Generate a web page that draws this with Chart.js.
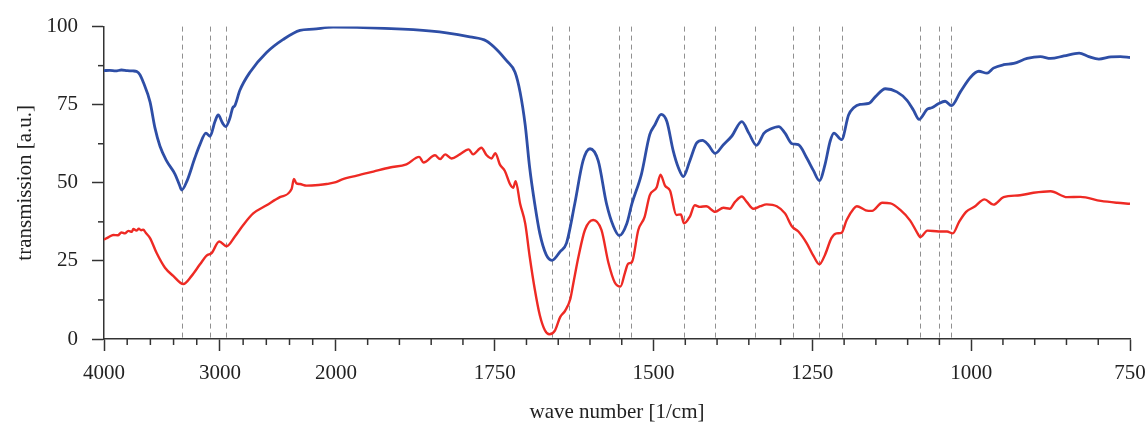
<!DOCTYPE html>
<html>
<head>
<meta charset="utf-8">
<script src="https://cdn.jsdelivr.net/npm/chart.js@4.4.1/dist/chart.umd.min.js"></script>
<style>
  html, body { margin: 0; padding: 0; background: #fff; overflow: hidden; }
  #wrap { width: 1146px; height: 426px; position: relative; }
</style>
</head>
<body>
<div id="wrap"><canvas id="irChart"></canvas></div>
<script>
// tick positions and labels (wave number, 1/cm)
const majorTicks = [4000, 3000, 2000, 1750, 1500, 1250, 1000, 750];
const minorTicksX = [3800, 3600, 3400, 3200, 2800, 2600, 2400, 2200,
    1950, 1900, 1850, 1800, 1700, 1650, 1600, 1550, 1450, 1400, 1350, 1300,
    1200, 1150, 1100, 1050, 950, 900, 850, 800];
const minorTicksY = [12.5, 37.5, 62.5, 87.5];

// marked bands
const bandLines = [3330, 3085, 2945, 1660, 1633, 1555, 1536, 1452, 1404, 1340, 1280, 1239, 1204, 1080, 1050, 1031];

// upper trace (blue)
const blueWn = [4000, 3950, 3900, 3850, 3800, 3750, 3718, 3690, 3661, 3603, 3560, 3517, 3460, 3388, 3351, 3330, 3283,
    3216, 3173, 3121, 3086, 3043, 3015, 2977, 2950, 2914, 2890, 2871, 2828, 2741, 2598, 2454, 2310, 2196, 2023,
    1957, 1878, 1826, 1789, 1763, 1747, 1731, 1718, 1710, 1702, 1695, 1687, 1679, 1669, 1660, 1647, 1637, 1624,
    1611, 1600, 1587, 1574, 1563, 1554, 1542, 1534, 1519, 1506, 1498, 1488, 1479, 1469, 1461, 1453, 1443, 1432,
    1423, 1414, 1403, 1390, 1377, 1361, 1350, 1338, 1326, 1316, 1303, 1293, 1282, 1272, 1259, 1248, 1239, 1230,
    1222, 1216, 1204, 1193, 1185, 1175, 1161, 1151, 1135, 1117, 1101, 1091, 1082, 1069, 1062, 1051, 1041, 1031,
    1017, 1001, 988, 975, 965, 949, 933, 912, 891, 875, 854, 830, 815, 799, 780, 765, 750];
const blueT = [85.9, 86.0, 85.8, 86.1, 85.9, 85.8, 85.6, 84.6, 82.2, 75.9, 67.5, 61.7, 57.0, 52.8, 49.5, 47.7, 50.7,
    58.0, 62.2, 65.9, 64.9, 69.6, 71.7, 69.1, 68.0, 70.7, 74.0, 74.7, 79.6, 85.4, 91.7, 95.9, 98.8, 99.2, 99.8,
    99.7, 99.0, 98.0, 96.7, 95.4, 92.7, 89.0, 85.4, 79.0, 68.5, 54.9, 43.3, 33.8, 27.0, 25.2, 28.0, 30.7, 43.3,
    57.0, 60.9, 57.0, 43.3, 36.0, 33.1, 37.0, 43.3, 52.8, 65.4, 68.5, 71.9, 69.6, 60.2, 54.9, 52.0, 57.0, 62.8,
    63.6, 62.2, 59.4, 62.2, 64.9, 69.6, 65.9, 62.0, 65.9, 67.2, 68.0, 65.9, 62.5, 62.2, 58.0, 53.8, 50.7, 55.9,
    63.3, 65.9, 63.8, 71.7, 74.0, 75.1, 75.4, 77.5, 80.1, 79.1, 76.4, 73.3, 70.3, 73.6, 74.0, 75.4, 76.1, 74.7,
    79.1, 83.8, 85.7, 85.1, 86.7, 87.8, 88.2, 89.8, 90.4, 89.8, 90.6, 91.5, 90.4, 89.6, 90.3, 90.4, 90.1];

// lower trace (red)
const redWn = [4000, 3960, 3920, 3880, 3850, 3820, 3790, 3760, 3747, 3720, 3700, 3680, 3661, 3640, 3603, 3546,
    3474, 3403, 3316, 3244, 3172, 3115, 3072, 3006, 2943, 2871, 2799, 2713, 2598, 2483, 2382, 2362, 2340, 2310,
    2253, 2150, 2080, 2000, 1991, 1967, 1941, 1915, 1889, 1869, 1862, 1844, 1836, 1828, 1818, 1805, 1791, 1784,
    1771, 1763, 1755, 1749, 1742, 1734, 1726, 1721, 1717, 1710, 1702, 1695, 1687, 1679, 1671, 1664, 1655, 1647,
    1639, 1631, 1626, 1618, 1608, 1595, 1582, 1571, 1561, 1552, 1545, 1540, 1534, 1524, 1514, 1506, 1495, 1489,
    1482, 1474, 1464, 1457, 1452, 1443, 1435, 1427, 1417, 1403, 1390, 1380, 1372, 1361, 1353, 1343, 1332, 1322,
    1306, 1293, 1282, 1272, 1259, 1248, 1239, 1230, 1220, 1212, 1204, 1196, 1185, 1180, 1166, 1156, 1140, 1127,
    1112, 1096, 1086, 1080, 1069, 1051, 1038, 1029, 1019, 1008, 995, 979, 965, 949, 923, 902, 875, 849, 828, 796,
    770, 750];
const redT = [31.8, 32.6, 33.3, 33.2, 34.1, 33.8, 34.6, 34.3, 35.2, 34.7, 35.3, 34.8, 35.0, 34.0, 32.3, 27.5,
    22.8, 20.2, 17.6, 20.2, 23.9, 26.7, 27.5, 31.2, 29.7, 32.8, 36.5, 40.2, 42.8, 45.4, 48.0, 51.2, 49.8, 49.6,
    49.1, 49.3, 49.6, 50.2, 51.0, 52.3, 53.6, 54.9, 55.9, 58.3, 56.5, 58.8, 57.6, 59.1, 57.8, 59.1, 60.7, 59.1,
    61.2, 58.9, 57.8, 59.5, 55.9, 53.8, 49.6, 48.4, 50.5, 43.3, 37.0, 26.5, 16.0, 7.6, 2.8, 1.5, 2.8, 7.0,
    9.1, 12.8, 18.1, 26.5, 34.9, 38.1, 34.9, 24.4, 18.1, 16.8, 21.2, 24.1, 24.6, 34.9, 39.1, 46.0, 48.6, 52.6,
    49.1, 47.5, 39.7, 39.9, 37.0, 39.1, 42.8, 42.3, 42.5, 40.7, 42.0, 41.7, 43.8, 45.6, 43.8, 41.7, 42.5, 43.1,
    42.5, 40.2, 36.0, 34.4, 30.7, 26.5, 23.9, 27.0, 32.3, 33.8, 34.0, 38.1, 41.7, 42.5, 41.2, 41.0, 43.6, 43.4,
    41.4, 37.9, 34.4, 32.6, 34.7, 34.4, 34.4, 33.8, 37.5, 40.7, 42.3, 44.7, 43.0, 45.4, 46.0, 46.8, 47.3, 45.4, 45.5, 44.2,
    43.6, 43.3];

// axis is split: 4000-2000 compressed, 2000-750 expanded
const HIGH_PART = 0.73; // width of 1000 cm-1 above 2000, in units of 250 cm-1 below
function pos(wn) {
    if (wn >= 2000) return (4000 - wn) / 1000 * HIGH_PART;
    return 2 * HIGH_PART + (2000 - wn) / 250;
}

const axisColor = '#333';
const fontFamily = "'Liberation Serif', 'Times New Roman', serif";

const bandPlugin = {
    id: 'bandLines',
    beforeDatasetsDraw(chart) {
        const { ctx, chartArea, scales: { x } } = chart;
        ctx.save();
        ctx.strokeStyle = '#909090';
        ctx.lineWidth = 1;
        ctx.setLineDash([5, 4]);
        bandLines.forEach(w => {
            const px = Math.round(x.getPixelForValue(pos(w))) + 0.5;
            ctx.beginPath();
            ctx.moveTo(px, chartArea.top);
            ctx.lineTo(px, chartArea.bottom);
            ctx.stroke();
        });
        ctx.restore();
    }
};

const minorTickPlugin = {
    id: 'minorTicks',
    afterDraw(chart) {
        const { ctx, chartArea, scales: { x, y } } = chart;
        ctx.save();
        ctx.strokeStyle = axisColor;
        ctx.lineWidth = 1.5;
        minorTicksX.forEach(w => {
            const px = x.getPixelForValue(pos(w));
            ctx.beginPath();
            ctx.moveTo(px, chartArea.bottom);
            ctx.lineTo(px, chartArea.bottom + 6);
            ctx.stroke();
        });
        minorTicksY.forEach(v => {
            const py = y.getPixelForValue(v);
            ctx.beginPath();
            ctx.moveTo(chartArea.left - 6, py);
            ctx.lineTo(chartArea.left, py);
            ctx.stroke();
        });
        ctx.restore();
    }
};

const ctx = document.getElementById('irChart').getContext('2d');
new Chart(ctx, {
    type: 'line',
    data: {
        datasets: [{
                label: 'upper',
                data: blueWn.map((w, i) => ({ x: pos(w), y: blueT[i] })),
                borderColor: '#2e4ea6',
                borderWidth: 2.8,
                pointRadius: 0,
                cubicInterpolationMode: 'monotone'
            },
            {
                label: 'lower',
                data: redWn.map((w, i) => ({ x: pos(w), y: redT[i] })),
                borderColor: '#ee2a24',
                borderWidth: 2.4,
                pointRadius: 0,
                cubicInterpolationMode: 'monotone'
            }
        ]
    },
    options: {
        responsive: true,
        maintainAspectRatio: false,
        animation: false,
        layout: { padding: { top: 22, right: 16, left: 0, bottom: 0 } },
        plugins: {
            legend: { display: false },
            tooltip: { enabled: false }
        },
        scales: {
            x: {
                type: 'linear',
                min: 0,
                max: pos(750),
                afterFit: (scale) => {
                    scale.height = 87;
                    scale.paddingLeft = 0;
                    scale.paddingRight = 0;
                },
                afterBuildTicks: (scale) => {
                    scale.ticks = majorTicks.map(w => ({ value: pos(w) }));
                },
                grid: { drawOnChartArea: false, tickLength: 12, tickColor: axisColor, tickWidth: 1.5 },
                border: { color: axisColor, width: 1.5 },
                ticks: {
                    autoSkip: false,
                    maxRotation: 0,
                    padding: 10,
                    color: '#222',
                    font: { family: fontFamily, size: 21 },
                    callback: (val, i) => majorTicks[i]
                },
                title: {
                    display: true,
                    text: 'wave number [1/cm]',
                    color: '#222',
                    font: { family: fontFamily, size: 21 },
                    padding: { top: 0, bottom: 1 }
                }
            },
            y: {
                min: 0,
                max: 100,
                afterFit: (scale) => { scale.width = 104; },
                grid: { drawOnChartArea: false, tickLength: 12, tickColor: axisColor, tickWidth: 1.5 },
                border: { color: axisColor, width: 1.5 },
                ticks: {
                    stepSize: 25,
                    padding: 14,
                    color: '#222',
                    font: { family: fontFamily, size: 21 }
                },
                title: {
                    display: true,
                    text: 'transmission [a.u.]',
                    color: '#222',
                    font: { family: fontFamily, size: 21 },
                    padding: { top: 13, bottom: 0 }
                }
            }
        }
    },
    plugins: [bandPlugin, minorTickPlugin]
});
</script>
</body>
</html>
